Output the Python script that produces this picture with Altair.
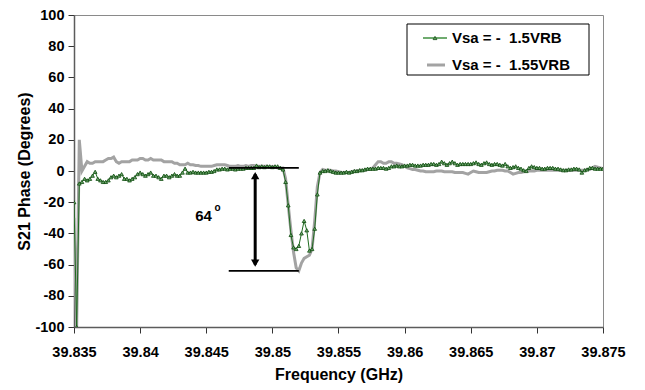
import altair as alt
import pandas as pd

# ---------------- data ----------------
freq_start = 39.835
freq_step = 0.0002

# S21 phase (degrees), Vsa = -1.5 VRB (green, triangles)
phase_15 = [
    -20, -100, -8, -7, -5, -6, -5, -3, -0.5, -5,
    -6, -7, -7, -6, -4, -3, -4, -3, -2, -5,
    -5, -6, -5, -4, -2, -1, -2, -3, -2, -1,
    -3, -3, -4, -5, -3, -3, -4, -3, -2, -3,
    -3, -1, 1.5, -1, -1, -0.5, -1, -1, -1, -1,
    -1, -0.5, -0.5, 0, 1, 1, 1.5, 1.5, 1, 1.5,
    1.5, 1, 1.5, 1.5, 1.5, 2, 2, 2, 2, 3.5,
    2.5, 3, 2.5, 3, 3, 2.5, 3, 3, 2, 1,
    -7, -22, -41, -49, -50, -48, -40, -32, -38, -51,
    -50, -37, -15, -1, 0, 0, 0.5, 0, -0.5, -1,
    -1, -1, -1, -0.5, -1, -0.5, 0, 0, 0.5, 0.5,
    1, 1.5, 1.5, 1.5, 1.5, 2, 2, 2, 1.5, 2,
    3, 3, 3.5, 3, 3, 3.5, 3.5, 4, 4, 3.5,
    3.5, 3.5, 4, 4, 4, 4.5, 4.5, 4, 4.5, 6,
    5, 4, 5, 6, 5, 4, 4.5, 4.5, 4.5, 4.5,
    4.5, 5, 5.5, 4.5, 4, 5, 5.5, 4.5, 4, 4.5,
    4.5, 4, 3.5, 4.5, 3, 2, 2.5, 3, 2, 1.5,
    0.5, 0, 2, 3, 2.5, 2, 2, 1.5, 1.5, 2,
    2, 2, 1.5, 1.5, 1, 0.5, 0.5, 1, 1, 1.5,
    1.5, 1, -1, 0.5, 1, 2, 2, 1.5, 1.5, 1.5,
    1.5,
]

# S21 phase (degrees), Vsa = -1.55 VRB (grey, thick)
phase_155 = [
    -30, -100, 20, 0, 3, 6, 5, 5, 6, 6,
    6, 6, 7, 8, 8, 9, 6, 5, 6, 6,
    6, 6, 7, 7, 7, 8, 8, 7, 7, 8,
    7, 7, 7, 7, 6, 6, 6, 6, 5, 5,
    4, 4, 4, 5, 4, 4, 3.5, 3.5, 3, 3,
    3, 3, 3, 3.5, 4, 4, 4, 4, 3.5, 3,
    3, 3, 3.5, 3, 3, 3.5, 3, 3.5, 3.5, 3,
    3, 3, 3, 3, 2.5, 3, 2.5, 2, 2, 2,
    -5, -22, -38, -52, -62, -64, -59, -56, -55, -54,
    -50, -32, -10, -1, 1, 0.5, 0.5, 0.5, 0, 0,
    -0.5, -1, -1, -1, -1, -0.5, 0, 0, 0.5, 0.5,
    0.5, 1, 1, 2, 4, 6, 6, 5, 5, 6,
    6, 5, 5, 4.5, 4, 3, 2, 1.5, 1, 1,
    0.5, 0, 0, -0.5, -0.5, -0.5, -0.5, 0, 0, 0,
    -0.5, -0.5, -0.5, -0.5, -1, -1, -1, -1, -1.5, -2,
    -1, 0, -0.5, -1, -1, -1, -1, -0.5, 0, 0,
    0.5, 0.5, 0.5, 0, 0, -1, -2, -1.5, -1, -1,
    -0.5, 0, 0, 0, 0, 0.5, 0.5, 0.5, 0.5, 0.5,
    0.5, 0.5, 0.5, 0.5, 0.5, 0.5, 0.5, 0.5, 0.5, 0.5,
    0.5, 0.5, 0.5, 0.5, 1, 1, 2, 3, 2.5, 2,
    1.5,
]

freq = [round(freq_start + i * freq_step, 4) for i in range(len(phase_15))]

series_names = ["Vsa = -\u00a0\u00a01.5VRB", "Vsa = -\u00a0\u00a01.55VRB"]
x_ticks = [39.835, 39.84, 39.845, 39.85, 39.855, 39.86, 39.865, 39.87, 39.875]
y_ticks = [-100, -80, -60, -40, -20, 0, 20, 40, 60, 80, 100]

# annotation (64 degree phase excursion)
ann_x_from = 39.8467
ann_x_to = 39.8520
ann_arrow_x = 39.8487
ann_top = 2
ann_bottom = -64
ann_label = "64"

df15 = pd.DataFrame({"freq": freq, "phase": phase_15, "series": series_names[0]})
df155 = pd.DataFrame({"freq": freq, "phase": phase_155, "series": series_names[1]})

FONT = "Liberation Sans"
GREEN = "#1f6b1f"
GREY = "#a3a3a3"

xscale = alt.Scale(domain=[39.835, 39.875], nice=False, zero=False)
yscale = alt.Scale(domain=[-100, 100], nice=False)

x_axis = alt.Axis(values=x_ticks, format=".3~f", title="Frequency (GHz)",
                  labelFlush=False, labelPadding=12, titlePadding=8, labelFontSize=14.5)
y_axis = alt.Axis(values=y_ticks, labelExpr="'' + datum.value", labelFontSize=14.5,
                  title="S21 Phase (Degrees)", titlePadding=2, labelPadding=4)


def X(field):
    return alt.X(field, scale=xscale, axis=x_axis)


def Y(field):
    return alt.Y(field, scale=yscale, axis=y_axis)


grey_line = alt.Chart(df155).mark_line(color=GREY, strokeWidth=3, clip=True).encode(
    x=X("freq:Q"), y=Y("phase:Q"))
green_line = alt.Chart(df15).mark_line(color=GREEN, strokeWidth=1, clip=True).encode(
    x=X("freq:Q"), y=Y("phase:Q"))
green_pts = alt.Chart(df15).mark_point(shape="triangle-up", size=14, filled=True,
                                       fill="#6fa86f", stroke="#0d4a0d",
                                       strokeWidth=0.8, opacity=1, clip=True).encode(
    x=X("freq:Q"), y=Y("phase:Q"))

# annotation lines
ann_h = alt.Chart(pd.DataFrame({"freq": [ann_x_from, ann_x_from], "x2": [ann_x_to, ann_x_to],
                                "phase": [ann_top, ann_bottom]})).mark_rule(
    color="black", strokeWidth=1.8).encode(x=X("freq:Q"), x2="x2:Q", y=Y("phase:Q"))
ann_v = alt.Chart(pd.DataFrame({"freq": [ann_arrow_x], "phase": [ann_top - 4],
                                "y2": [ann_bottom + 4]})).mark_rule(
    color="black", strokeWidth=3).encode(x=X("freq:Q"), y=Y("phase:Q"), y2="y2:Q")
ann_heads = alt.Chart(pd.DataFrame({"freq": [ann_arrow_x, ann_arrow_x],
                                    "phase": [ann_top - 5, ann_bottom + 5],
                                    "shape": ["triangle-up", "triangle-down"]})).mark_point(
    filled=True, color="black", size=70, opacity=1).encode(
    x=X("freq:Q"), y=Y("phase:Q"), shape=alt.Shape("shape:N", scale=None))
ann_text = alt.Chart(pd.DataFrame({"freq": [39.8448], "phase": [-29], "t": [ann_label]})).mark_text(
    font=FONT, fontWeight="bold", fontSize=15, color="black").encode(
    x=X("freq:Q"), y=Y("phase:Q"), text="t:N")
ann_deg = alt.Chart(pd.DataFrame({"freq": [39.84585], "phase": [-23.5], "t": ["o"]})).mark_text(
    font=FONT, fontWeight="bold", fontSize=10, color="black").encode(
    x=X("freq:Q"), y=Y("phase:Q"), text="t:N")

# legend (box + entries)
one = pd.DataFrame({"a": [0]})
leg_box = alt.Chart(one).mark_rect(fill="white", stroke="black", strokeWidth=1).encode(
    x=alt.value(333), x2=alt.value(515), y=alt.value(9), y2=alt.value(60))
leg_g_line = alt.Chart(one).mark_rule(color="#3f8f3f", strokeWidth=1.5).encode(
    x=alt.value(349), x2=alt.value(373), y=alt.value(23))
leg_g_pt = alt.Chart(one).mark_point(shape="triangle-up", size=14, filled=True,
                                     fill="#6fa86f", stroke="#0d4a0d", strokeWidth=0.8,
                                     opacity=1).encode(x=alt.value(361), y=alt.value(23))
leg_r_line = alt.Chart(one).mark_rule(color=GREY, strokeWidth=3).encode(
    x=alt.value(353), x2=alt.value(371), y=alt.value(50))
leg_t1 = alt.Chart(pd.DataFrame({"t": [series_names[0]]})).mark_text(
    font=FONT, fontWeight="bold", fontSize=15, color="black", align="left",
    baseline="middle").encode(x=alt.value(378), y=alt.value(23), text="t:N")
leg_t2 = alt.Chart(pd.DataFrame({"t": [series_names[1]]})).mark_text(
    font=FONT, fontWeight="bold", fontSize=15, color="black", align="left",
    baseline="middle").encode(x=alt.value(378), y=alt.value(50), text="t:N")

chart = alt.layer(
    grey_line, green_line, green_pts,
    ann_h, ann_v, ann_heads, ann_text, ann_deg,
    leg_box, leg_g_line, leg_g_pt, leg_r_line, leg_t1, leg_t2,
).properties(
    width=529, height=312,
    background="white",
    autosize=alt.AutoSizeParams(type="none"),
    padding={"left": 66, "top": 7, "right": 34, "bottom": 60},
).configure_view(
    stroke="#8a8a8a", strokeWidth=1,
).configure_axis(
    labelFont=FONT, labelFontWeight="bold", labelFontSize=14, labelColor="black",
    titleFont=FONT, titleFontWeight="bold", titleFontSize=16, titleColor="black",
    domainColor="#5c5c5c", domainWidth=1.5, tickColor="#333333", tickSize=6,
    grid=False,
)

chart.save("out.html", embed_options={"renderer": "svg", "actions": False})
